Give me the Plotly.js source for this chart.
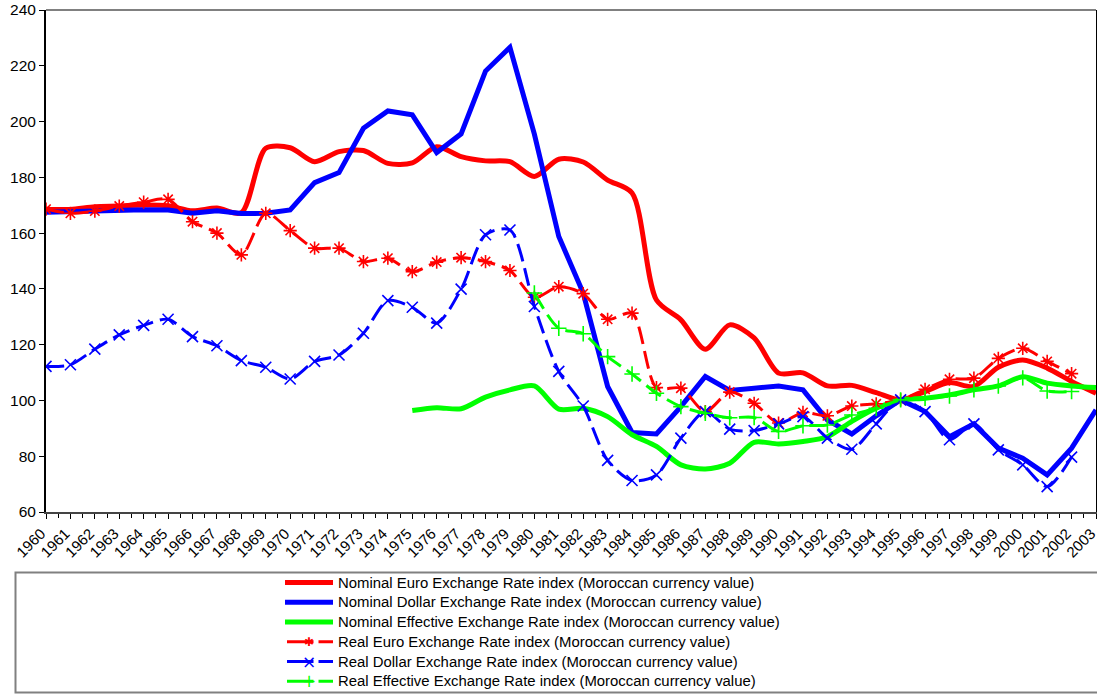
<!DOCTYPE html>
<html>
<head>
<meta charset="utf-8">
<script src="https://cdn.plot.ly/plotly-3.0.1.min.js"></script>
<style>html,body{margin:0;padding:0;background:#fff;}#chart{width:1097px;height:694px;}</style>
</head>
<body>
<div id="chart"></div>
<script>
const years = [];
for (let y = 1960; y <= 2003; y++) years.push(y);

const nominalEuro = [168.6,168.5,169.5,169.7,170.1,169.8,168,169,167.3,190.4,190.6,185.6,189.2,189.6,185,185.2,191,187.4,185.9,185.6,180.3,186.5,185.5,179,174.4,136,128.9,118.4,127.1,122.4,109.8,109.9,105.2,105.4,102.8,100.2,103.2,106.4,105,111.9,114.5,111.6,106.8,102.6];
const nominalDollar = [167.5,167.7,168.3,168.4,168.4,168.3,167.1,168,167,167.1,168.3,178.1,181.7,197.6,203.8,202.4,188.9,195.6,218.1,226.6,195.5,158.8,138.5,105,88.5,88,97.8,108.6,103.6,104.4,105.2,103.8,93,88,94.5,100.2,96,87,91.6,82.9,79.3,73.3,82.9,96.6];
const nominalEffective = [null,null,null,null,null,null,null,null,null,null,null,null,null,null,null,96.4,97.4,97,101.2,103.8,105.2,96.9,97.2,94.2,87.7,83.5,76.9,75.4,77.5,85,84.4,85.3,87,92.5,97.2,100.2,100.8,102,103.8,105.2,108.5,106.2,105.2,104.6];
const realEuro = [168.6,167.1,167.9,169.7,171.1,172.1,164.1,160,152.2,167.1,160.9,154.6,154.6,149.8,151,146.2,149.6,151.2,149.8,146.6,137,140.8,138.3,129.1,131.3,104.6,104.4,96,103,99,91.9,95.7,94.5,98,98.8,100.2,104,107.6,108,115.1,118.7,114,109.6,null];
const realDollar = [112.2,112.8,118.4,123.5,126.9,129.1,122.9,119.6,114.3,111.9,107.7,114,116.3,124.1,135.8,133.4,127.7,139.9,159.4,161.1,133.7,110.4,98,78.5,71.3,73.3,86.5,96,89.7,89.2,91.6,94.2,86.5,82.5,91.6,100.2,96,85.9,91.6,82.3,76.9,69.1,79.7,null];
const realEffective = [null,null,null,null,null,null,null,null,null,null,null,null,null,null,null,null,null,null,null,null,138.5,125.9,123.9,115.7,109.5,102.6,97.8,95.4,93.8,93.9,88.9,90.9,91.2,94.8,97.2,100.2,100.8,101.6,103.8,105.2,108.1,103.4,103.2,null];

const seriesNames = [
  'Nominal Euro Exchange Rate index (Moroccan currency value)',
  'Nominal Dollar Exchange Rate index (Moroccan currency value)',
  'Nominal Effective Exchange Rate index (Moroccan currency value)',
  'Real Euro Exchange Rate index (Moroccan currency value)',
  'Real Dollar Exchange Rate index (Moroccan currency value)',
  'Real Effective Exchange Rate index (Moroccan currency value)'
];

const RED = '#ff0000', BLUE = '#0000ff', GREEN = '#00ff00';
const FONT = 'Liberation Sans, Arial, sans-serif';

function nominal(vals, name, color, shape) {
  return {x: years, y: vals, name: name, type: 'scatter', mode: 'lines',
    line: {color: color, width: 5, shape: shape, smoothing: 0.8}, connectgaps: false};
}
function real(vals, name, color, symbol) {
  return {x: years, y: vals, name: name, type: 'scatter', mode: 'lines+markers',
    line: {color: color, width: 3, dash: '18px,7px', shape: 'spline', smoothing: 0.8},
    marker: {symbol: symbol, size: 11, color: color, line: {color: color, width: 1.6}},
    connectgaps: false};
}

const traces = [
  nominal(nominalEuro, seriesNames[0], RED, 'spline'),
  nominal(nominalDollar, seriesNames[1], BLUE, 'linear'),
  nominal(nominalEffective, seriesNames[2], GREEN, 'spline'),
  real(realEuro, seriesNames[3], RED, 'asterisk-open'),
  real(realDollar, seriesNames[4], BLUE, 'x-thin-open'),
  real(realEffective, seriesNames[5], GREEN, 'cross-thin-open')
];

// ---- pixel helpers for legend placement (plot area: l=46, w=1050, t=10, h=502)
const PL = 46, PW = 1050, PT = 10, PH = 502;
const px = v => (v - PL) / PW;
const py = v => (PT + PH - v) / PH;

const legendColors = [RED, BLUE, GREEN, RED, BLUE, GREEN];
const legendGlyphs = [null, null, null, '\u2731', '\u00D7', '+'];
const glyphSizes = [0, 0, 0, 12, 17, 17];

const shapes = [
  {type: 'line', xref: 'paper', yref: 'paper', x0: 0, x1: 1, y0: 1, y1: 1,
   line: {color: '#808080', width: 2}},
  {type: 'rect', xref: 'paper', yref: 'paper', x0: px(15.5), x1: px(1110), y0: py(692.5), y1: py(572.5),
   line: {color: '#808080', width: 2}, fillcolor: 'rgba(0,0,0,0)'}
];
const annotations = [];
seriesNames.forEach((name, i) => {
  const rowY = 582.5 + 19.75 * i;
  if (legendGlyphs[i] === null) {
    shapes.push({type: 'line', xref: 'paper', yref: 'paper', x0: px(285), x1: px(333), y0: py(rowY), y1: py(rowY),
      line: {color: legendColors[i], width: 5}});
  } else {
    shapes.push({type: 'line', xref: 'paper', yref: 'paper', x0: px(287), x1: px(313.5), y0: py(rowY), y1: py(rowY),
      line: {color: legendColors[i], width: 3}});
    shapes.push({type: 'line', xref: 'paper', yref: 'paper', x0: px(318.5), x1: px(333), y0: py(rowY), y1: py(rowY),
      line: {color: legendColors[i], width: 3}});
    annotations.push({xref: 'paper', yref: 'paper', x: px(309), y: py(rowY), xanchor: 'center', yanchor: 'middle',
      text: legendGlyphs[i], showarrow: false,
      font: {family: 'DejaVu Sans, sans-serif', size: glyphSizes[i], color: legendColors[i]}});
  }
  annotations.push({xref: 'paper', yref: 'paper', x: px(336), y: py(rowY), xanchor: 'left', yanchor: 'middle',
    text: name, showarrow: false, font: {family: FONT, size: 14.9, color: '#000'}});
});

const layout = {
  width: 1097, height: 694,
  margin: {l: 46, r: 1, t: 10, b: 182, autoexpand: false},
  paper_bgcolor: '#ffffff', plot_bgcolor: '#ffffff',
  font: {family: FONT, size: 15, color: '#000'},
  showlegend: false,
  xaxis: {
    type: 'linear', range: [1960, 2003], automargin: false,
    tickmode: 'linear', tick0: 1960, dtick: 1,
    tickangle: -45, ticks: 'outside', ticklen: 5, tickcolor: '#000', tickwidth: 1,
    ticklabeloverflow: 'allow', ticklabelshift: -5,
    minor: {dtick: 0.5, tick0: 1960, ticks: 'outside', ticklen: 4, tickcolor: '#000', showgrid: false},
    showgrid: false, zeroline: false, showline: true, linecolor: '#444', linewidth: 2,
    tickfont: {family: FONT, size: 15, color: '#000'}
  },
  yaxis: {
    range: [60, 240], tickmode: 'linear', tick0: 60, dtick: 20, automargin: false,
    ticks: 'outside', ticklen: 5, tickcolor: '#000',
    showgrid: false, zeroline: false, showline: true, linecolor: '#000', linewidth: 2, mirror: true,
    tickfont: {family: FONT, size: 15.5, color: '#000'}
  },
  shapes: shapes,
  annotations: annotations
};

Plotly.newPlot('chart', traces, layout, {displayModeBar: false, staticPlot: true});
</script>
</body>
</html>
